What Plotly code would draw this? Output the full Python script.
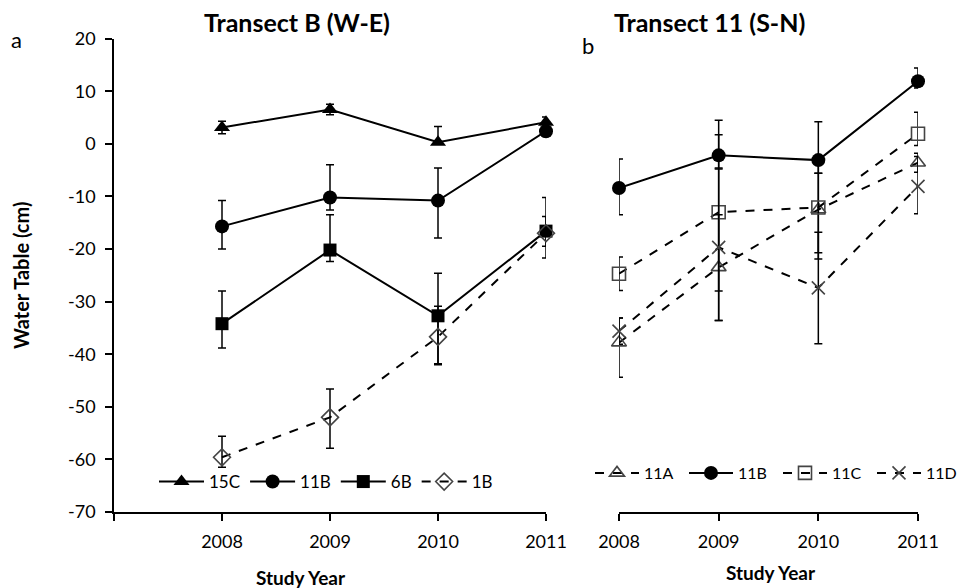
import plotly.graph_objects as go

years = [2008, 2009, 2010, 2011]

# Panel a: Transect B (W-E)
b15c = [3.1, 6.5, 0.3, 4.1]
b15c_up = [1.2, 1.0, 3.0, 1.0]
b15c_dn = [1.2, 1.0, 0.0, 1.0]
b11b = [-15.7, -10.2, -10.8, 2.4]
b11b_up = [4.9, 6.2, 6.2, 1.0]
b11b_dn = [4.3, 2.4, 7.1, 1.0]
b6b = [-34.2, -20.2, -32.7, -16.6]
b6b_up = [6.2, 6.7, 8.1, 2.8]
b6b_dn = [4.6, 2.2, 9.3, 2.9]
b1b = [-59.6, -52.0, -36.7, -17.0]
b1b_up = [4.0, 5.4, 5.8, 6.8]
b1b_dn = [1.9, 5.9, 5.1, 4.7]

# Panel b: Transect 11 (S-N)
t11a = [-37.8, -23.5, -12.5, -3.6]
t11a_up = [4.7, 10.0, 9.4, 1.8]
t11a_dn = [6.6, 10.1, 9.4, 1.8]
t11b = [-8.4, -2.2, -3.1, 11.9]
t11b_up = [5.5, 6.7, 7.3, 2.5]
t11b_dn = [5.1, 2.4, 2.5, 1.3]
t11c = [-24.7, -13.0, -12.1, 1.9]
t11c_up = [3.2, 14.7, 6.5, 4.1]
t11c_dn = [3.2, 15.0, 8.6, 2.2]
t11d = [-35.6, -19.7, -27.4, -8.1]
t11d_up = [2.5, 14.9, 10.6, 5.7]
t11d_dn = [2.5, 13.9, 10.6, 5.2]

y_ticks = [20, 10, 0, -10, -20, -30, -40, -50, -60, -70]
y_ticklabels = [str(v) for v in y_ticks]

FONT = "Lato"
OPEN_COL = "#444444"

fig = go.Figure()


def add(name, y, up, dn, symbol, dash, xa, ya, legend, open_=False, size=12):
    if open_:
        marker = dict(symbol=symbol, size=size, color=OPEN_COL,
                      line=dict(color=OPEN_COL, width=1.6))
    else:
        marker = dict(symbol=symbol, size=size, color="black",
                      line=dict(color="black", width=0))
    fig.add_trace(go.Scatter(
        x=years, y=y, name=name, mode="lines+markers",
        line=dict(color="black", width=2, dash=dash),
        marker=marker,
        error_y=dict(type="data", symmetric=False, array=up, arrayminus=dn,
                     color="black", thickness=1.5, width=4),
        xaxis=xa, yaxis=ya, legend=legend, cliponaxis=False,
    ))


add("15C", b15c, b15c_up, b15c_dn, "triangle-up", "solid", "x", "y", "legend", size=14)
add("11B", b11b, b11b_up, b11b_dn, "circle", "solid", "x", "y", "legend", size=14)
add("6B", b6b, b6b_up, b6b_dn, "square", "solid", "x", "y", "legend", size=13)
add("1B", b1b, b1b_up, b1b_dn, "diamond-open", "dash", "x", "y", "legend", open_=True, size=13)

add("11A", t11a, t11a_up, t11a_dn, "triangle-up-open", "dash", "x2", "y2", "legend2", open_=True, size=13)
add("11B", t11b, t11b_up, t11b_dn, "circle", "solid", "x2", "y2", "legend2", size=14)
add("11C", t11c, t11c_up, t11c_dn, "square-open", "dash", "x2", "y2", "legend2", open_=True, size=13)
add("11D", t11d, t11d_up, t11d_dn, "x-thin-open", "dash", "x2", "y2", "legend2", open_=True, size=13)

W, H = 972, 588
ydom = [1 - 512 / H, 1 - 38.6 / H]
axis_font = dict(family=FONT, size=18, color="black")


def px(xp, yp):
    return xp / W, 1 - yp / H


common_ax = dict(showline=True, linecolor="black", linewidth=1.5,
                 ticks="outside", ticklen=7, tickwidth=1.5, tickcolor="black",
                 showgrid=False, zeroline=False, tickfont=axis_font, automargin=False)

annots = []
for text, (xp, yp), size, angle in [
    ("<b>Transect B (W-E)</b>", (297, 22), 25, 0),
    ("<b>Transect 11 (S-N)</b>", (709, 22), 25, 0),
    ("a", (16, 40), 22, 0),
    ("b", (588, 45), 22, 0),
    ("<b>Study Year</b>", (301, 577), 19, 0),
    ("<b>Study Year</b>", (771, 572), 19, 0),
    ("<b>Water Table (cm)</b>", (21, 276), 20, -90),
]:
    xx, yy = px(xp, yp)
    annots.append(dict(text=text, x=xx, y=yy, xref="paper", yref="paper", showarrow=False,
                       font=dict(family=FONT, size=size, color="black"), textangle=angle,
                       xanchor="center", yanchor="middle"))

lx1, ly1 = px(154, 482)
lx2, ly2 = px(590, 473)

fig.update_layout(
    width=W, height=H,
    margin=dict(l=0, r=0, t=0, b=0, autoexpand=False),
    paper_bgcolor="white", plot_bgcolor="white",
    font=dict(family=FONT, color="black"),
    xaxis=dict(domain=[114 / W, 546 / W], range=[2007, 2011],
               tickvals=[2007, 2008, 2009, 2010, 2011],
               ticktext=["", "2008", "2009", "2010", "2011"],
               ticklabelstandoff=6, **common_ax),
    yaxis=dict(domain=ydom, range=[-70, 20],
               tickvals=y_ticks, ticktext=y_ticklabels,
               ticklabelstandoff=6, **common_ax),
    xaxis2=dict(domain=[619 / W, 918 / W], range=[2008, 2011], anchor="y2",
                tickvals=years, ticktext=[str(v) for v in years],
                ticklabelstandoff=6, **common_ax),
    yaxis2=dict(domain=ydom, range=[-70, 20], anchor="x2", visible=False),
    legend=dict(orientation="h", x=lx1, y=ly1, xanchor="left", yanchor="middle",
                font=dict(family=FONT, size=17), bgcolor="rgba(0,0,0,0)",
                itemwidth=45, tracegroupgap=0),
    legend2=dict(orientation="h", x=lx2, y=ly2, xanchor="left", yanchor="middle",
                 font=dict(family=FONT, size=16), bgcolor="rgba(0,0,0,0)",
                 entrywidth=35, entrywidthmode="pixels",
                 itemwidth=44, tracegroupgap=0),
    showlegend=True,
    annotations=annots,
)

fig.write_html("out.html", config={"displayModeBar": False},
               post_script="document.body.style.margin='0';")
